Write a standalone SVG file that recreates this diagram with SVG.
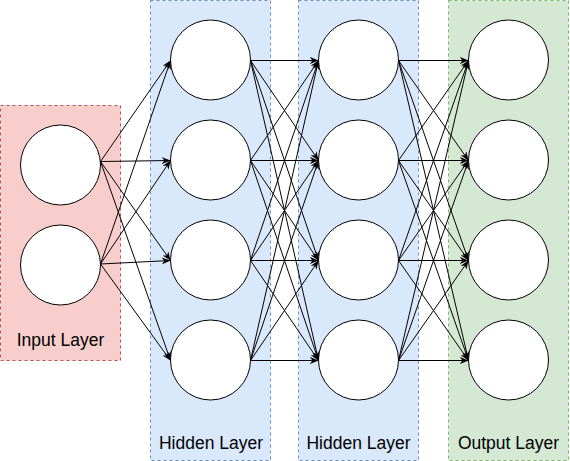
<svg xmlns="http://www.w3.org/2000/svg" width="570" height="461" viewBox="0 0 570 461">
<style>
.box{stroke-width:1;stroke-dasharray:3 3}
.in{fill:#f8cecc;stroke:#b85450}
.hid{fill:#dae8fc;stroke:#6c8ebf}
.out{fill:#d5e8d4;stroke:#82b366}
.n{fill:#fff;stroke:#000;stroke-width:1}
.lbl{font-family:"Liberation Sans",Arial,sans-serif;font-size:17.5px;fill:#000;text-anchor:middle}
.e line{stroke:#000;stroke-width:1;marker-end:url(#a)}
</style>
<defs>
<marker id="a" viewBox="0 0 10 8" refX="10" refY="4" markerWidth="9" markerHeight="7" markerUnits="userSpaceOnUse" orient="auto">
<path d="M0,0 L10,4 L0,8 L3,4 Z" fill="#000"/>
</marker>
</defs>
<g id="layer-input">
<rect class="box in" x="0.5" y="105.5" width="120" height="255"/>
<text class="lbl" x="60.5" y="346">Input Layer</text>
</g>
<g id="layer-hidden1">
<rect class="box hid" x="150.5" y="0.5" width="120" height="460"/>
<text class="lbl" x="211" y="449">Hidden Layer</text>
</g>
<g id="layer-hidden2">
<rect class="box hid" x="298.5" y="0.5" width="120" height="460"/>
<text class="lbl" x="358.5" y="449">Hidden Layer</text>
</g>
<g id="layer-output">
<rect class="box out" x="448.5" y="0.5" width="120" height="460"/>
<text class="lbl" x="508.5" y="449">Output Layer</text>
</g>
<g id="connectors" class="e">
<line x1="100.5" y1="161.5" x2="170.5" y2="60.5"/>
<line x1="100.5" y1="161.5" x2="170.5" y2="160.5"/>
<line x1="100.5" y1="161.5" x2="170.5" y2="260.5"/>
<line x1="100.5" y1="161.5" x2="170.5" y2="360.5"/>
<line x1="100.5" y1="264" x2="170.5" y2="60.5"/>
<line x1="100.5" y1="264" x2="170.5" y2="160.5"/>
<line x1="100.5" y1="264" x2="170.5" y2="260.5"/>
<line x1="100.5" y1="264" x2="170.5" y2="360.5"/>
<line x1="250.5" y1="60.5" x2="318.5" y2="60.5"/>
<line x1="250.5" y1="60.5" x2="318.5" y2="160.5"/>
<line x1="250.5" y1="60.5" x2="318.5" y2="260.5"/>
<line x1="250.5" y1="60.5" x2="318.5" y2="360.5"/>
<line x1="250.5" y1="160.5" x2="318.5" y2="60.5"/>
<line x1="250.5" y1="160.5" x2="318.5" y2="160.5"/>
<line x1="250.5" y1="160.5" x2="318.5" y2="260.5"/>
<line x1="250.5" y1="160.5" x2="318.5" y2="360.5"/>
<line x1="250.5" y1="260.5" x2="318.5" y2="60.5"/>
<line x1="250.5" y1="260.5" x2="318.5" y2="160.5"/>
<line x1="250.5" y1="260.5" x2="318.5" y2="260.5"/>
<line x1="250.5" y1="260.5" x2="318.5" y2="360.5"/>
<line x1="250.5" y1="360.5" x2="318.5" y2="60.5"/>
<line x1="250.5" y1="360.5" x2="318.5" y2="160.5"/>
<line x1="250.5" y1="360.5" x2="318.5" y2="260.5"/>
<line x1="250.5" y1="360.5" x2="318.5" y2="360.5"/>
<line x1="398.5" y1="60.5" x2="468.5" y2="60.5"/>
<line x1="398.5" y1="60.5" x2="468.5" y2="160.5"/>
<line x1="398.5" y1="60.5" x2="468.5" y2="260.5"/>
<line x1="398.5" y1="60.5" x2="468.5" y2="360.5"/>
<line x1="398.5" y1="160.5" x2="468.5" y2="60.5"/>
<line x1="398.5" y1="160.5" x2="468.5" y2="160.5"/>
<line x1="398.5" y1="160.5" x2="468.5" y2="260.5"/>
<line x1="398.5" y1="160.5" x2="468.5" y2="360.5"/>
<line x1="398.5" y1="260.5" x2="468.5" y2="60.5"/>
<line x1="398.5" y1="260.5" x2="468.5" y2="160.5"/>
<line x1="398.5" y1="260.5" x2="468.5" y2="260.5"/>
<line x1="398.5" y1="260.5" x2="468.5" y2="360.5"/>
<line x1="398.5" y1="360.5" x2="468.5" y2="60.5"/>
<line x1="398.5" y1="360.5" x2="468.5" y2="160.5"/>
<line x1="398.5" y1="360.5" x2="468.5" y2="260.5"/>
<line x1="398.5" y1="360.5" x2="468.5" y2="360.5"/>
</g>
<g id="node-in1"><circle class="n" cx="60.5" cy="165" r="40"/></g>
<g id="node-in2"><circle class="n" cx="60.5" cy="265" r="40"/></g>
<g id="node-h1-1"><circle class="n" cx="210.5" cy="60" r="40"/></g>
<g id="node-h1-2"><circle class="n" cx="210.5" cy="160" r="40"/></g>
<g id="node-h1-3"><circle class="n" cx="210.5" cy="260" r="40"/></g>
<g id="node-h1-4"><circle class="n" cx="210.5" cy="360" r="40"/></g>
<g id="node-h2-1"><circle class="n" cx="358.5" cy="60" r="40"/></g>
<g id="node-h2-2"><circle class="n" cx="358.5" cy="160" r="40"/></g>
<g id="node-h2-3"><circle class="n" cx="358.5" cy="260" r="40"/></g>
<g id="node-h2-4"><circle class="n" cx="358.5" cy="360" r="40"/></g>
<g id="node-o1"><circle class="n" cx="508.5" cy="60" r="40"/></g>
<g id="node-o2"><circle class="n" cx="508.5" cy="160" r="40"/></g>
<g id="node-o3"><circle class="n" cx="508.5" cy="260" r="40"/></g>
<g id="node-o4"><circle class="n" cx="508.5" cy="360" r="40"/></g>
</svg>
